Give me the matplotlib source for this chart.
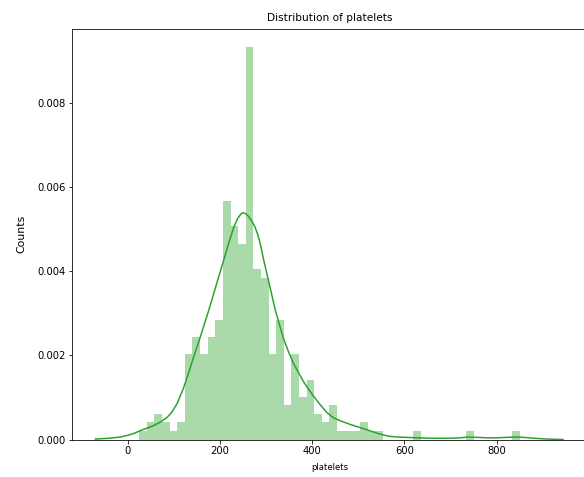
import numpy as np
import matplotlib
matplotlib.use("Agg")
import matplotlib.pyplot as plt

# Histogram: 50 equal bins between min and max platelets (thousands)
bin_min = 25.1
bin_max = 850.0
# bar heights (density), in units of 1e-3
hist_density_e3 = [0.20, 0.41, 0.61, 0.41, 0.20, 0.41, 2.03, 2.43, 2.03, 2.43,
                   2.84, 5.68, 5.07, 4.66, 9.33, 4.05, 3.85, 2.03, 2.84, 0.81,
                   2.03, 1.01, 1.42, 0.61, 0.41, 0.81, 0.20, 0.20, 0.20, 0.41,
                   0.20, 0.20, 0.00, 0.00, 0.00, 0.00, 0.20, 0.00, 0.00, 0.00,
                   0.00, 0.00, 0.00, 0.20, 0.00, 0.00, 0.00, 0.00, 0.00, 0.20]

# KDE curve points (x, density in 1e-3)
kde_x = [-70, -40, -15, 0, 15, 27, 42, 56, 70, 85, 95, 107, 121, 132, 143, 154,
         165, 176, 186, 197, 208, 219, 230, 238, 245, 250, 255, 262, 269, 276,
         282, 287, 295, 305, 313, 320, 331, 338, 349, 360, 370, 381, 392, 403,
         418, 432, 446, 460, 482, 511, 530, 547, 565, 583, 605, 627, 656, 680,
         700, 720, 740, 760, 778, 800, 820, 840, 860, 880, 910, 944]
kde_y_e3 = [0.01, 0.03, 0.06, 0.10, 0.15, 0.21, 0.27, 0.33, 0.41, 0.52, 0.64,
            0.85, 1.22, 1.58, 1.96, 2.32, 2.70, 3.08, 3.45, 3.86, 4.26, 4.67,
            5.05, 5.25, 5.36, 5.40, 5.38, 5.31, 5.20, 5.06, 4.88, 4.68, 4.27,
            3.80, 3.42, 3.08, 2.66, 2.40, 2.08, 1.80, 1.60, 1.38, 1.20, 1.03,
            0.82, 0.64, 0.52, 0.45, 0.36, 0.26, 0.19, 0.13, 0.08, 0.06, 0.05,
            0.04, 0.03, 0.03, 0.03, 0.04, 0.06, 0.05, 0.04, 0.04, 0.05, 0.06,
            0.05, 0.03, 0.01, 0.00]

title = "Distribution of platelets"
xlabel = "platelets"
ylabel = "Counts"

green = "#2ca02c"

fig = plt.figure(figsize=(584 / 72, 477 / 72), dpi=72)
ax = fig.add_axes([72.3 / 584, (477 - 439.5) / 477, (586.6 - 72.3) / 584, (439.5 - 29) / 477])

n_bins = len(hist_density_e3)
edges = np.linspace(bin_min, bin_max, n_bins + 1)
width = edges[1] - edges[0]
heights = np.array(hist_density_e3) * 1e-3
ax.bar(edges[:-1], heights, width=width, align="edge", color=green, alpha=0.4,
       linewidth=0)
ax.plot(kde_x, np.array(kde_y_e3) * 1e-3, color=green, linewidth=1.5,
        solid_joinstyle="round")

ax.set_xlim(-120, 995)
ax.set_ylim(0, 0.00977)
ax.set_xticks([0, 200, 400, 600, 800])
ax.set_yticks([0.0, 0.002, 0.004, 0.006, 0.008])
ax.set_yticklabels(["0.000", "0.002", "0.004", "0.006", "0.008"])
ax.tick_params(labelsize=10)
ax.set_title(title, fontsize=10.5, pad=8)
ax.set_xlabel(xlabel, fontsize=8.5, labelpad=6)
ax.set_ylabel(ylabel, fontsize=11, labelpad=11)

fig.savefig("out.png", dpi=72)
